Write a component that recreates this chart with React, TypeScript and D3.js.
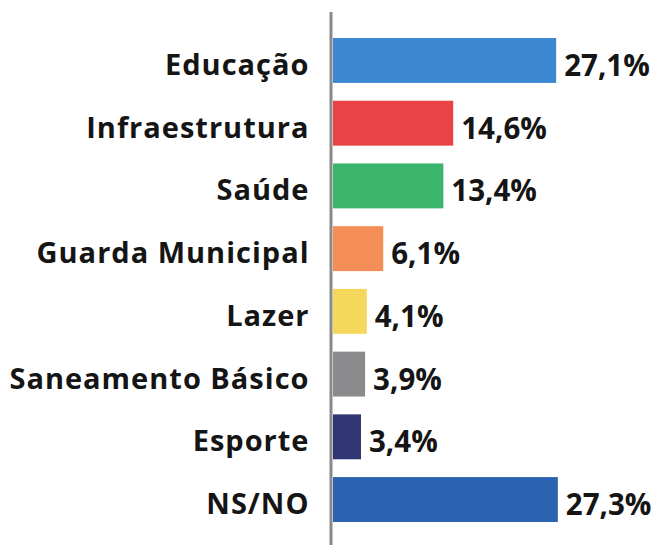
import React from "react";
import * as d3 from "d3";

const categories = ["Educação", "Infraestrutura", "Saúde", "Guarda Municipal", "Lazer", "Saneamento Básico", "Esporte", "NS/NO"];
const values = [27.1, 14.6, 13.4, 6.1, 4.1, 3.9, 3.4, 27.3];
const valueLabels = ["27,1%", "14,6%", "13,4%", "6,1%", "4,1%", "3,9%", "3,4%", "27,3%"];
const colors = ["#3b88d1", "#e94445", "#3cb56c", "#f58d56", "#f5d75c", "#8b8b8d", "#2f3671", "#2c63b0"];

export default function App() {
  const W = 659, H = 545;
  const x0 = 333;
  const x = d3.scaleLinear().domain([0, 27.2]).range([x0, 557]);
  const y = d3.scaleBand<string>().domain(categories).range([38, 522]).paddingInner(0.284).paddingOuter(0);
  const font = "'Open Sans', 'Noto Sans', sans-serif";
  return (
    <svg width={W} height={H} style={{ position: "absolute", left: 0, top: 0, background: "#fff" }}>
      {categories.map((c, i) => {
        const yy = y(c)!;
        const bw = y.bandwidth();
        const cy = yy + bw / 2;
        return (
          <g key={c}>
            <rect x={x0} y={yy} width={x(values[i]) - x0} height={bw} fill={colors[i]} />
            <text x={309.5} y={cy + 14.5} textAnchor="end" fontFamily={font} fontWeight={700} fontSize={29} letterSpacing={1.0} fill="#151515">{c}</text>
            <text x={x(values[i]) + 8} y={cy + 15.5} textAnchor="start" fontFamily={font} fontWeight={700} fontSize={29.5} fill="#151515">{valueLabels[i]}</text>
          </g>
        );
      })}
      <line x1={331} x2={331} y1={12} y2={H} stroke="#8a8a8a" strokeWidth={3} />
    </svg>
  );
}
